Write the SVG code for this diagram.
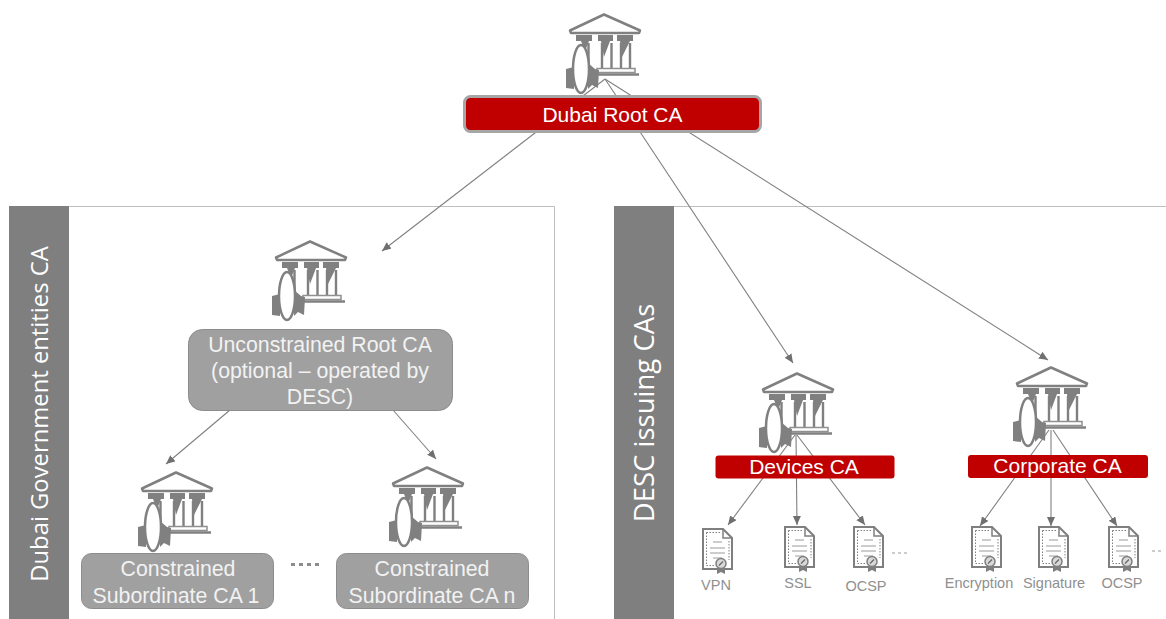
<svg xmlns="http://www.w3.org/2000/svg" xmlns:xlink="http://www.w3.org/1999/xlink" width="1166" height="619" viewBox="0 0 1166 619">
<style>
text{font-family:"Liberation Sans",Arial,sans-serif;text-anchor:middle}
.panel{fill:#fff;stroke:#bfbfbf;stroke-width:1}
.side{fill:#7f7f7f}
.sidet{font-family:"Open Sans","Noto Sans",sans-serif;fill:#fff}
.red{fill:#c00000}
.grey{fill:#a0a0a0;stroke:#8c8c8c;stroke-width:1}
.wt{fill:#fff;font-size:21px}
.gt{fill:#f2f2f2;font-size:21.300px}
.lab{fill:#8f8f8f;font-size:14.500px}
.conn line{stroke:#808080;stroke-width:1.100;marker-end:url(#arr)}
.dots{fill:none;stroke:#999;stroke-width:1;stroke-dasharray:3 3}
</style>
<defs>
<marker id="arr" markerUnits="userSpaceOnUse" markerWidth="10" markerHeight="9" refX="9" refY="4" orient="auto">
<path d="M0 0L9 4L0 8Z" fill="#707070"/>
</marker>
<g id="bank">
<path d="M0 1.500L-34 17.500L-33 20H35L36 17.500Z" fill="#fff" stroke="#808080" stroke-width="2.500" stroke-linejoin="round"/>
<path d="M-28 22H-12V28H-15L-19 38L-23 28H-28ZM-6 22H9V28H6L0 44L-3 28H-6ZM13 22H29V28H26L18 44L16 28H13Z" fill="#808080"/>
<path d="M-15.500 30V56M-2 30V56M7.500 30V56M17 30V56M26 30V56" stroke="#808080" stroke-width="2.400" fill="none"/>
<path d="M-7 55.500H31V59.500H-7Z" fill="#fff" stroke="#909090" stroke-width="1.500"/>
<path d="M-7 61.500H35" stroke="#808080" stroke-width="2.500"/>
<path d="M-38 56L-30 54V76L-38 75ZM-16 50L-9 56L-5 57L-6 75L-12 72L-16 76Z" fill="#808080"/>
<ellipse cx="-23" cy="56" rx="8" ry="24" fill="#fff" stroke="#808080" stroke-width="2.500"/>
</g>
<g id="doc">
<path d="M1 1H21L30 10V41H1Z" fill="#fff" stroke="#7f7f7f" stroke-width="2"/>
<path d="M21 1V10H30" fill="none" stroke="#7f7f7f" stroke-width="1.500"/>
<path d="M4.500 4.500H19M4.500 4.500V37.500H13M27 13V32" fill="none" stroke="#7f7f7f" stroke-width="1" stroke-dasharray="1.500 1.500"/>
<path d="M11 14H20M8 20H23M8 25H23M11 30H20" stroke="#9a9a9a" stroke-width="1" fill="none"/>
<path d="M15 40V46L19 44L23 46V40Z" fill="#7f7f7f"/>
<circle cx="19" cy="35.500" r="5" fill="#d9d9d9" stroke="#7f7f7f" stroke-width="1.500"/>
<path d="M17 37.500L21 33.500" stroke="#666" stroke-width="1.200"/>
</g>
</defs>
<rect width="1166" height="619" fill="#fff"/>
<g id="panel-gov"><path class="panel" d="M9.500 619V206.500H554.500V619"/><rect class="side" x="9" y="206" width="60" height="413"/><text class="sidet" font-size="23.800" transform="translate(48 414) rotate(-90)">Dubai Government entities CA</text></g>
<g id="panel-desc"><path class="panel" d="M614.500 619V206.500H1166"/><rect class="side" x="614" y="206" width="60" height="413"/><text class="sidet" font-size="27.500" transform="translate(654 413) rotate(-90)">DESC issuing CAs</text></g>
<g id="connectors" class="conn">
<line x1="605" y1="79" x2="382" y2="251"/>
<line x1="605" y1="79" x2="793" y2="363"/>
<line x1="605" y1="79" x2="1048" y2="360"/>
<line x1="230" y1="410" x2="166" y2="464"/>
<line x1="393" y1="410" x2="436" y2="459"/>
<line x1="795" y1="435" x2="728" y2="525"/>
<line x1="796" y1="435" x2="797" y2="525"/>
<line x1="797" y1="435" x2="865" y2="525"/>
<line x1="1049" y1="430" x2="980" y2="526"/>
<line x1="1051" y1="430" x2="1051" y2="526"/>
<line x1="1053" y1="430" x2="1117" y2="526"/>
</g>
<g id="root-ca"><use xlink:href="#bank" href="#bank" x="604" y="13"/><rect x="464.500" y="96.500" width="296" height="35" rx="6" class="red" stroke="#a6a6a6" stroke-width="3"/><text class="wt" x="612.500" y="121.500">Dubai Root CA</text></g>
<g id="unconstrained-ca"><use xlink:href="#bank" href="#bank" x="310" y="240"/><rect x="188.500" y="329.500" width="264" height="81" rx="14" class="grey"/><text class="gt" x="320" y="352">Unconstrained Root CA</text><text class="gt" x="320" y="378">(optional – operated by</text><text class="gt" x="320" y="404">DESC)</text></g>
<g id="sub-ca-1"><use xlink:href="#bank" href="#bank" x="176" y="471"/><rect x="81.500" y="553.500" width="192" height="55" rx="10" class="grey"/><text class="gt" x="178" y="576">Constrained</text><text class="gt" x="176" y="603">Subordinate CA 1</text></g>
<g id="sub-ca-n"><use xlink:href="#bank" href="#bank" x="427" y="466"/><rect x="336.500" y="553.500" width="192" height="55" rx="10" class="grey"/><text class="gt" x="432" y="576">Constrained</text><text class="gt" x="432" y="603">Subordinate CA n</text></g>
<path id="gov-dots" d="M291 564.500H319" fill="none" stroke="#8c8c8c" stroke-width="3" stroke-dasharray="4 4"/>
<g id="devices-ca"><use xlink:href="#bank" href="#bank" x="797" y="372"/><rect x="715.500" y="455.500" width="179" height="23" rx="3" class="red"/><text class="wt" x="804" y="474">Devices CA</text></g>
<g id="corporate-ca"><use xlink:href="#bank" href="#bank" x="1051" y="366"/><rect x="968" y="455" width="180" height="23" rx="3" class="red"/><text class="wt" x="1057.500" y="473">Corporate CA</text></g>
<g id="doc-vpn"><use xlink:href="#doc" href="#doc" x="702" y="528"/><text class="lab" x="716" y="590">VPN</text></g>
<g id="doc-ssl"><use xlink:href="#doc" href="#doc" x="784" y="526"/><text class="lab" x="798" y="588">SSL</text></g>
<g id="doc-ocsp-1"><use xlink:href="#doc" href="#doc" x="853" y="526"/><text class="lab" x="866" y="591">OCSP</text></g>
<path class="dots" d="M892 553H910"/>
<g id="doc-encryption"><use xlink:href="#doc" href="#doc" x="971" y="526"/><text class="lab" x="979" y="588">Encryption</text></g>
<g id="doc-signature"><use xlink:href="#doc" href="#doc" x="1038" y="526"/><text class="lab" x="1054" y="588">Signature</text></g>
<g id="doc-ocsp-2"><use xlink:href="#doc" href="#doc" x="1108" y="526"/><text class="lab" x="1122" y="588">OCSP</text></g>
<path class="dots" d="M1152 551H1164"/>
</svg>
